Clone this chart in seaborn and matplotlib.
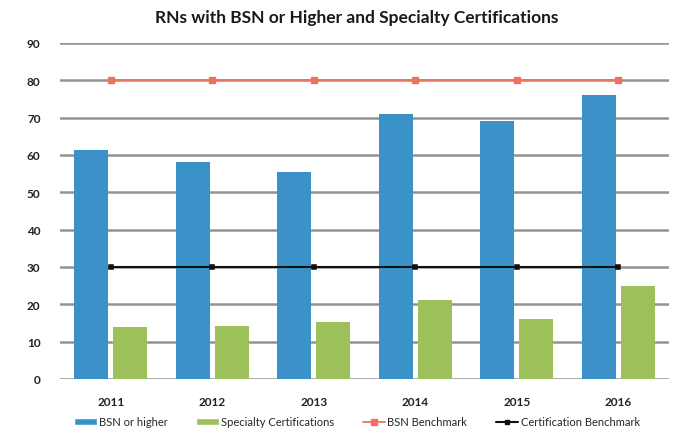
import matplotlib
matplotlib.use("Agg")
import matplotlib.pyplot as plt
import seaborn as sns
import pandas as pd
from matplotlib.patches import Patch
from matplotlib.lines import Line2D

years = ["2011", "2012", "2013", "2014", "2015", "2016"]
bsn_or_higher = [61.4, 58.0, 55.4, 70.9, 69.0, 76.1]
specialty_cert = [13.8, 14.1, 15.3, 21.1, 16.2, 24.9]
bsn_benchmark = [80, 80, 80, 80, 80, 80]
cert_benchmark = [30, 30, 30, 30, 30, 30]
yticks = [0, 10, 20, 30, 40, 50, 60, 70, 80, 90]

BLUE = "#3A92C8"
GREEN = "#9DC05A"
RED = "#F0705F"
BLACK = "#111111"

sns.set_theme(style="white")
plt.rcParams["font.family"] = ["Lato", "DejaVu Sans"]

bars = pd.DataFrame({
    "year": years * 2,
    "value": bsn_or_higher + specialty_cert,
    "series": ["BSN or higher"] * len(years) + ["Specialty Certifications"] * len(years),
})
bench = pd.DataFrame({"year": years, "bsn": bsn_benchmark, "cert": cert_benchmark})

fig = plt.figure(figsize=(6.84, 4.35), dpi=100)
ax = fig.add_axes([60 / 684, 55 / 435, 609 / 684, 336 / 435])

sns.barplot(data=bars, x="year", y="value", hue="series",
            palette=[BLUE, GREEN], width=0.76, gap=0.12, ax=ax,
            legend=False, zorder=2, saturation=1, edgecolor="none")
sns.pointplot(data=bench, x="year", y="bsn", color=RED, markers="s",
              markersize=4, linewidth=1.3, ax=ax, zorder=3)
sns.pointplot(data=bench, x="year", y="cert", color=BLACK, markers="s",
              markersize=3.5, linewidth=1.5, ax=ax, zorder=3)

ax.set_xlim(-0.5, len(years) - 0.5)
ax.set_ylim(0, 90)
ax.set_yticks(yticks)
ax.set_yticklabels([str(v) for v in yticks])
ax.yaxis.grid(True, color="#939393", linewidth=1.8, zorder=0)
ax.set_axisbelow(True)
for s in ax.spines.values():
    s.set_visible(False)
ax.set_xlabel("")
ax.set_ylabel("")
ax.tick_params(axis="y", length=0, pad=14, labelsize=8.5, labelcolor="#222222")
ax.tick_params(axis="x", length=0, pad=12, labelsize=8.5, labelcolor="#222222")
for t in ax.get_xticklabels() + ax.get_yticklabels():
    t.set_fontweight("bold")

fig.text(357 / 684, 1 - 18 / 435, "RNs with BSN or Higher and Specialty Certifications",
         ha="center", va="center", fontsize=12.5, fontweight="bold", color="#1a1a1a")

handles = [
    Patch(facecolor=BLUE, label="BSN or higher"),
    Patch(facecolor=GREEN, label="Specialty Certifications"),
    Line2D([], [], color=RED, marker="s", markersize=4, linewidth=1.3, label="BSN Benchmark"),
    Line2D([], [], color=BLACK, marker="s", markersize=3.5, linewidth=1.5, label="Certification Benchmark"),
]
fig.legend(handles=handles, loc="center", bbox_to_anchor=(357 / 684, 1 - 423 / 435),
           ncol=4, frameon=False, fontsize=8, handlelength=2.0, handleheight=0.6,
           handletextpad=0.2, columnspacing=2.6)

fig.savefig("out.png", dpi=100)
